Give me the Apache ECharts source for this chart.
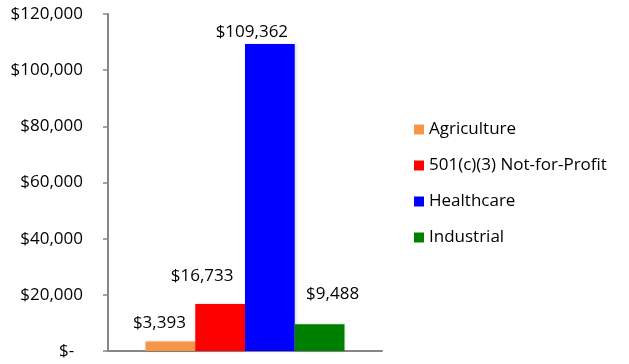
<!DOCTYPE html>
<html>
<head>
<meta charset="utf-8">
<script src="https://cdn.jsdelivr.net/npm/echarts@6/dist/echarts.min.js"></script>
<style>
  html, body { margin: 0; padding: 0; background: #fff; }
  #chart { width: 629px; height: 364px; }
</style>
</head>
<body>
<div id="chart"></div>
<script>
// Funding by sector, one column per sector
const sectors = ['Agriculture', '501(c)(3) Not-for-Profit', 'Healthcare', 'Industrial'];
const amounts = [3393, 16733, 109362, 9488];
const sectorColors = ['#F79646', '#FF0000', '#0000FF', '#008000'];
// Hand-placed value labels, nudged from each column's top
const labelOffsets = [[-11, -5], [-18, -14], [-18, 2], [13, -17]];
const yTicks = [0, 20000, 40000, 60000, 80000, 100000, 120000];

const FONT = 'Open Sans';
const FONT_SIZE = 17;

function money(v) {
  if (v === 0) return '$-  ';
  return '$' + v.toLocaleString('en-US');
}

const chart = echarts.init(document.getElementById('chart'), null, { renderer: 'canvas' });

const series = sectors.map((name, i) => ({
  name: name,
  type: 'bar',
  barGap: '0%',
  barCategoryGap: '27.4%',
  data: [amounts[i]],
  itemStyle: {
    color: sectorColors[i],
    shadowBlur: 3,
    shadowColor: 'rgba(0,0,0,0.18)',
    shadowOffsetX: 1,
    shadowOffsetY: 0
  },
  label: {
    show: true,
    position: 'top',
    distance: 5,
    offset: labelOffsets[i],
    formatter: p => money(p.value),
    fontFamily: FONT,
    fontSize: FONT_SIZE,
    lineHeight: FONT_SIZE,
    color: '#000'
  },
  emphasis: { disabled: true }
}));

chart.setOption({
  animation: false,
  textStyle: { fontFamily: FONT },
  grid: { left: 108, right: 247, top: 14, bottom: 13, containLabel: false },
  legend: {
    orient: 'vertical',
    left: 414,
    top: 121,
    padding: 0,
    itemWidth: 10,
    itemHeight: 10,
    itemGap: 19,
    icon: 'rect',
    data: sectors,
    textStyle: { fontFamily: FONT, fontSize: FONT_SIZE, lineHeight: FONT_SIZE, color: '#000' }
  },
  xAxis: {
    type: 'category',
    data: [''],
    axisLine: { lineStyle: { color: '#868686', width: 2 } },
    axisTick: { show: false },
    axisLabel: { show: false },
    splitLine: { show: false }
  },
  yAxis: {
    type: 'value',
    min: yTicks[0],
    max: yTicks[yTicks.length - 1],
    interval: yTicks[1] - yTicks[0],
    axisLine: { show: true, lineStyle: { color: '#868686', width: 2 } },
    axisTick: { show: true, length: 5, lineStyle: { color: '#868686', width: 1.5 } },
    splitLine: { show: false },
    axisLabel: {
      margin: 25,
      formatter: v => money(v),
      fontFamily: FONT,
      fontSize: FONT_SIZE,
      color: '#000'
    }
  },
  series: series
});
</script>
</body>
</html>
